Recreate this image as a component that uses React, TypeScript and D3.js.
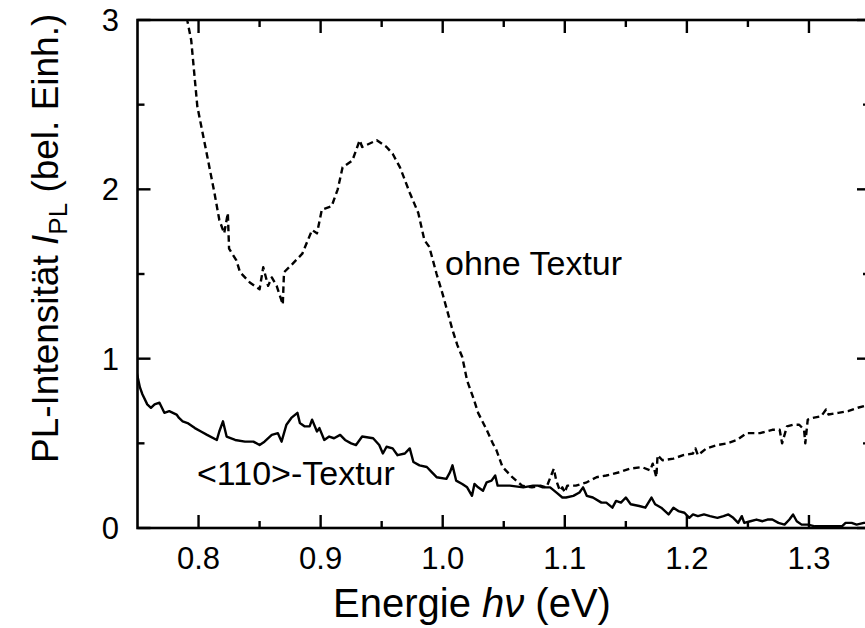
import React from "react";
import * as d3 from "d3";

// ---- data ----
const dashedE = [0.787,0.791,0.794,0.799,0.807,0.813,0.817,0.821,0.824,0.825,0.831,0.834,0.842,0.850,0.853,0.857,0.860,0.864,0.869,0.870,0.877,0.885,0.893,0.897,0.901,0.909,0.914,0.918,0.926,0.932,0.934,0.946,0.954,0.959,0.965,0.973,0.980,0.985,0.989,0.995,1.000,1.008,1.012,1.016,1.020,1.025,1.029,1.036,1.041,1.044,1.049,1.057,1.065,1.073,1.080,1.085,1.091,1.093,1.096,1.098,1.100,1.102,1.109,1.118,1.126,1.134,1.145,1.153,1.163,1.170,1.172,1.175,1.176,1.180,1.189,1.197,1.205,1.207,1.209,1.216,1.225,1.233,1.241,1.249,1.260,1.270,1.276,1.278,1.282,1.287,1.292,1.296,1.297,1.299,1.303,1.310,1.314,1.316,1.324,1.332,1.340,1.350];
const dashedI = [3.2,2.99,2.88,2.49,2.20,1.98,1.82,1.74,1.86,1.65,1.58,1.51,1.45,1.41,1.54,1.43,1.48,1.43,1.32,1.51,1.56,1.62,1.76,1.74,1.88,1.90,2.00,2.13,2.17,2.29,2.25,2.29,2.25,2.21,2.13,1.98,1.86,1.70,1.66,1.50,1.38,1.17,1.08,1.01,0.87,0.77,0.68,0.58,0.50,0.46,0.36,0.30,0.25,0.24,0.25,0.24,0.35,0.28,0.22,0.24,0.21,0.25,0.25,0.27,0.30,0.31,0.33,0.35,0.36,0.34,0.38,0.30,0.43,0.40,0.41,0.43,0.44,0.47,0.43,0.47,0.49,0.50,0.52,0.56,0.56,0.58,0.58,0.50,0.60,0.61,0.61,0.58,0.50,0.64,0.65,0.66,0.70,0.67,0.68,0.69,0.71,0.73];

const solidE = [0.749,0.752,0.754,0.758,0.761,0.764,0.768,0.772,0.776,0.782,0.784,0.787,0.791,0.797,0.802,0.807,0.815,0.817,0.820,0.823,0.830,0.838,0.845,0.850,0.854,0.860,0.865,0.868,0.872,0.876,0.881,0.883,0.887,0.891,0.893,0.897,0.899,0.903,0.907,0.911,0.916,0.920,0.925,0.929,0.934,0.943,0.948,0.951,0.954,0.959,0.963,0.969,0.973,0.976,0.981,0.987,0.991,0.995,1.003,1.006,1.008,1.011,1.016,1.020,1.024,1.026,1.029,1.033,1.036,1.040,1.043,1.045,1.055,1.066,1.074,1.078,1.082,1.088,1.093,1.098,1.101,1.107,1.112,1.115,1.118,1.123,1.130,1.134,1.139,1.142,1.146,1.150,1.154,1.161,1.166,1.171,1.174,1.179,1.185,1.189,1.193,1.198,1.202,1.205,1.209,1.214,1.219,1.225,1.230,1.234,1.238,1.242,1.245,1.247,1.252,1.257,1.262,1.266,1.270,1.275,1.280,1.284,1.287,1.290,1.294,1.299,1.305,1.311,1.319,1.327,1.330,1.335,1.339,1.345,1.350];
const solidI = [0.93,0.83,0.79,0.73,0.71,0.73,0.74,0.68,0.69,0.67,0.65,0.63,0.62,0.59,0.57,0.55,0.52,0.57,0.63,0.54,0.52,0.51,0.51,0.49,0.51,0.55,0.56,0.51,0.61,0.65,0.68,0.62,0.60,0.60,0.64,0.57,0.59,0.52,0.54,0.53,0.55,0.52,0.50,0.49,0.54,0.53,0.49,0.44,0.48,0.47,0.43,0.44,0.47,0.39,0.37,0.36,0.33,0.30,0.29,0.33,0.37,0.28,0.26,0.24,0.19,0.26,0.24,0.22,0.27,0.28,0.31,0.25,0.25,0.24,0.25,0.25,0.24,0.24,0.21,0.18,0.18,0.19,0.21,0.24,0.19,0.18,0.15,0.15,0.12,0.16,0.15,0.18,0.14,0.13,0.12,0.18,0.14,0.12,0.08,0.12,0.10,0.09,0.06,0.08,0.07,0.08,0.07,0.06,0.07,0.08,0.06,0.03,0.07,0.03,0.04,0.05,0.04,0.05,0.05,0.03,0.02,0.05,0.08,0.04,0.02,0.02,0.01,0.01,0.01,0.01,0.03,0.03,0.02,0.03,0.03];

const xMajorTicks = [0.8, 0.9, 1.0, 1.1, 1.2, 1.3];
const xMinorTicks = [0.85, 0.95, 1.05, 1.15, 1.25];
const yMajorTicks = [0, 1, 2, 3];
const yMinorTicks = [0.5, 1.5, 2.5];

const labelDashed = "ohne Textur";
const labelSolid = "<110>-Textur";

export default function App() {
  const W = 865, H = 628;
  const x0 = 137.5, x1 = 870, yTop = 20, yBot = 528;
  const x = d3.scaleLinear().domain([0.75, 1.35]).range([x0, x1]);
  const y = d3.scaleLinear().domain([0, 3]).range([yBot, yTop]);
  const line = d3.line<[number, number]>().x(d => x(d[0])).y(d => y(d[1]));
  const dashedPts: [number, number][] = dashedE.map((e, i) => [e, dashedI[i]]);
  const solidPts: [number, number][] = solidE.map((e, i) => [e, solidI[i]]);
  const font = "Liberation Sans, Arial, Helvetica, sans-serif";
  const majL = 13, minL = 7;
  const sw = 2.6;

  return (
    <svg width={W} height={H} style={{ position: "absolute", left: 0, top: 0, background: "#fff" }} fontFamily={font}>
      <defs>
        <clipPath id="plot">
          <rect x={x0} y={yTop} width={x1 - x0} height={yBot - yTop} />
        </clipPath>
      </defs>
      <rect width={W} height={H} fill="#fff" />
      {/* curves */}
      <g clipPath="url(#plot)" fill="none" stroke="#000" strokeLinejoin="round">
        <path d={line(dashedPts) || ""} strokeWidth={2.4} strokeDasharray="6.5,4" />
        <path d={line(solidPts) || ""} strokeWidth={2.4} />
      </g>
      {/* ticks */}
      <g stroke="#000" strokeWidth={2.4}>
        {xMajorTicks.map(t => (
          <g key={"xm" + t}>
            <line x1={x(t)} x2={x(t)} y1={yBot} y2={yBot - majL} />
            <line x1={x(t)} x2={x(t)} y1={yTop} y2={yTop + majL} />
          </g>
        ))}
        {xMinorTicks.map(t => (
          <g key={"xn" + t}>
            <line x1={x(t)} x2={x(t)} y1={yBot} y2={yBot - minL} />
            <line x1={x(t)} x2={x(t)} y1={yTop} y2={yTop + minL} />
          </g>
        ))}
        {yMajorTicks.map(t => (
          <g key={"ym" + t}>
            <line x1={x0} x2={x0 + majL} y1={y(t)} y2={y(t)} />
            <line x1={x1} x2={x1 - majL} y1={y(t)} y2={y(t)} />
          </g>
        ))}
        {yMinorTicks.map(t => (
          <g key={"yn" + t}>
            <line x1={x0} x2={x0 + minL} y1={y(t)} y2={y(t)} />
            <line x1={x1} x2={x1 - minL} y1={y(t)} y2={y(t)} />
          </g>
        ))}
      </g>
      {/* frame */}
      <rect x={x0} y={yTop} width={x1 - x0} height={yBot - yTop} fill="none" stroke="#000" strokeWidth={sw} />
      {/* tick labels */}
      <g fontSize={31} fill="#000">
        {xMajorTicks.map(t => (
          <text key={"xl" + t} x={x(t)} y={569} textAnchor="middle">{t.toFixed(1)}</text>
        ))}
        {yMajorTicks.map(t => (
          <text key={"yl" + t} x={119} y={y(t) + 11} textAnchor="end">{String(t)}</text>
        ))}
      </g>
      {/* annotations */}
      <text x={445} y={275} fontSize={34} fill="#000">{labelDashed}</text>
      <text x={197} y={485} fontSize={34} fill="#000">{labelSolid}</text>
      {/* x title */}
      <text x={333} y={617} fontSize={40} fill="#000">
        Energie <tspan fontStyle="italic">h</tspan><tspan fontStyle="italic">ν</tspan> (eV)
      </text>
      {/* y title */}
      <text transform="translate(58,463) rotate(-90)" fontSize={37} fill="#000">
        PL-Intensität <tspan fontStyle="italic">I</tspan><tspan fontSize={26} dy={9}>PL</tspan><tspan dy={-9}> (bel. Einh.)</tspan>
      </text>
    </svg>
  );
}
